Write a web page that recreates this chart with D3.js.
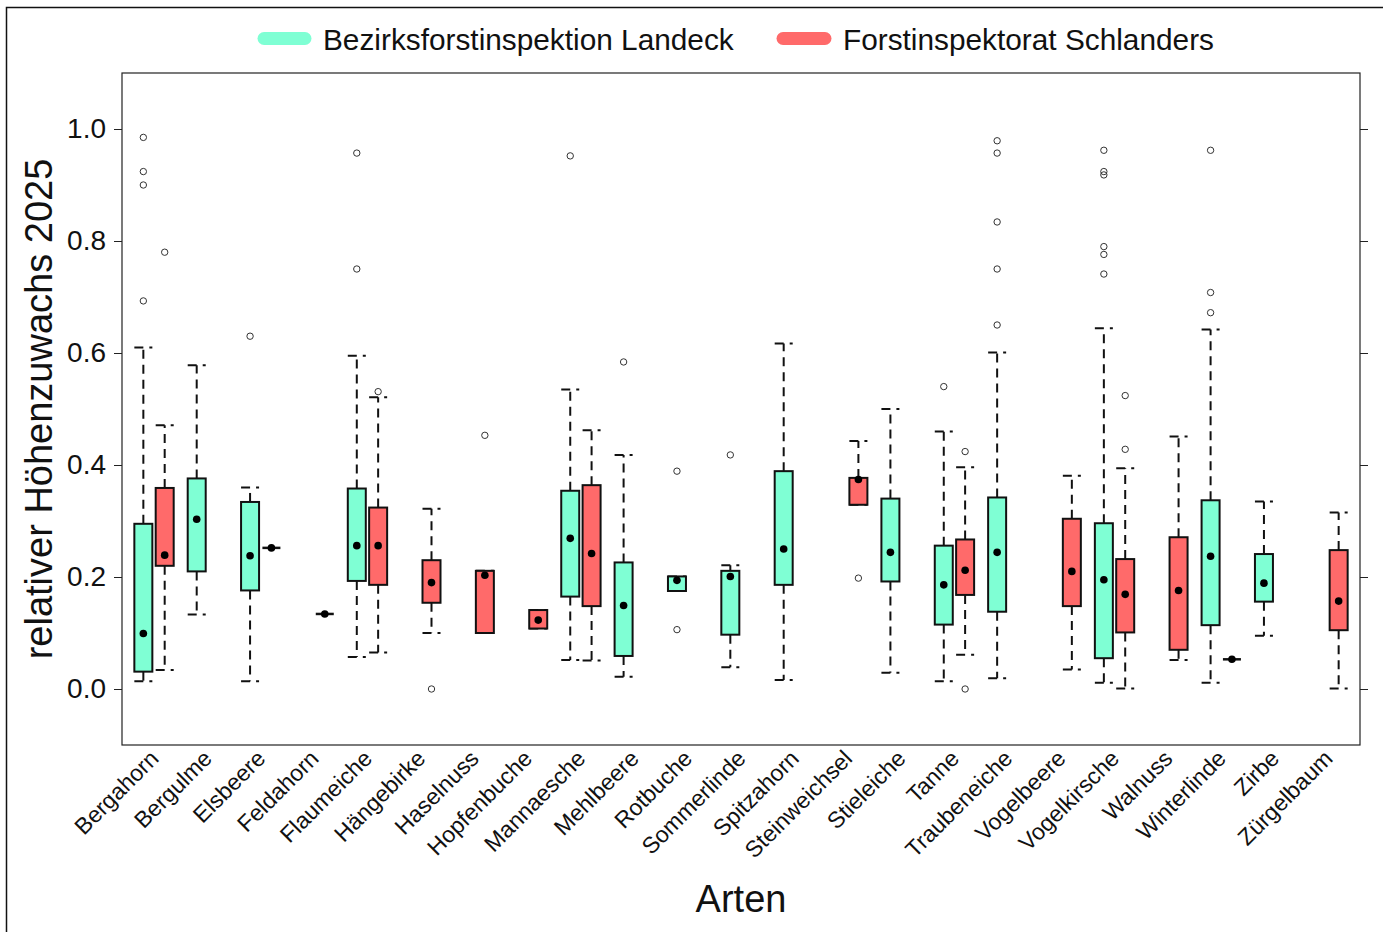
<!DOCTYPE html>
<html>
<head>
<meta charset="utf-8">
<script src="https://cdn.jsdelivr.net/npm/d3@7"></script>
<style>
  html, body { margin: 0; padding: 0; background: #fff; }
  svg { display: block; font-family: "Liberation Sans", Arial, sans-serif; }
</style>
</head>
<body>
<svg id="chart" width="1383" height="932"></svg>
<script>
// ---------- DATA ----------
const categories = ["Bergahorn","Bergulme","Elsbeere","Feldahorn","Flaumeiche","Hängebirke","Haselnuss",
  "Hopfenbuche","Mannaesche","Mehlbeere","Rotbuche","Sommerlinde","Spitzahorn","Steinweichsel","Stieleiche",
  "Tanne","Traubeneiche","Vogelbeere","Vogelkirsche","Walnuss","Winterlinde","Zirbe","Zürgelbaum"];

const groups = ["Bezirksforstinspektion Landeck", "Forstinspektorat Schlanders"];
const groupColors = ["#7FFFD4", "#FF6A6A"];

// Landeck: lower whisker, Q1, median, Q3, upper whisker (null = no data)
const landeckLow    = [0.014,0.133,0.014,null,0.057,null,null,null,0.052,0.022,0.175,0.039,0.016,null,0.029,0.014,0.019,null,0.011,null,0.011,0.095,null];
const landeckQ1     = [0.031,0.210,0.176,null,0.193,null,null,null,0.165,0.059,0.175,0.097,0.186,null,0.192,0.115,0.138,null,0.055,null,0.114,0.156,null];
const landeckMedian = [0.099,0.303,0.238,null,0.256,null,null,null,0.269,0.149,0.194,0.201,0.250,null,0.244,0.186,0.244,null,0.195,null,0.237,0.189,null];
const landeckQ3     = [0.295,0.376,0.334,null,0.358,null,null,null,0.354,0.226,0.201,0.211,0.389,null,0.340,0.256,0.342,null,0.296,null,0.337,0.241,null];
const landeckHigh   = [0.610,0.578,0.360,null,0.595,null,null,null,0.535,0.418,0.201,0.221,0.617,null,0.500,0.460,0.601,null,0.644,null,0.642,0.335,null];
const landeckOutliers = [[0.985,0.924,0.900,0.693],[],[0.630],[],[0.957,0.750],[],[],[],[0.952],[0.584],[0.389,0.106],[0.418],[],[],[],[0.540],
  [0.979,0.957,0.834,0.750,0.650],[],[0.962,0.924,0.918,0.790,0.776,0.741],[],[0.962,0.708,0.672],[],[]];

// Schlanders
const schlandersLow    = [0.034,null,0.252,0.134,0.065,0.100,0.100,0.108,0.051,null,null,null,null,0.329,null,0.061,null,0.035,0.001,0.052,0.053,null,0.001];
const schlandersQ1     = [0.220,null,0.252,0.134,0.186,0.154,0.100,0.108,0.148,null,null,null,null,0.329,null,0.168,null,0.148,0.101,0.070,0.053,null,0.105];
const schlandersMedian = [0.239,null,0.252,0.134,0.256,0.190,0.203,0.123,0.242,null,null,null,null,0.374,null,0.212,null,0.210,0.169,0.176,0.053,null,0.157];
const schlandersQ3     = [0.359,null,0.252,0.134,0.324,0.230,0.211,0.141,0.364,null,null,null,null,0.377,null,0.267,null,0.304,0.232,0.271,0.053,null,0.248];
const schlandersHigh   = [0.471,null,0.252,0.134,0.521,0.322,0.211,0.141,0.462,null,null,null,null,0.443,null,0.396,null,0.381,0.394,0.451,0.053,null,0.315];
const schlandersOutliers = [[0.780],[],[],[],[0.531],[0.000],[0.453],[],[],[],[],[],[],[0.198],[],[0.424,0.000],[],[],[0.524,0.428],[],[],[],[]];

const yTicks = [0.0, 0.2, 0.4, 0.6, 0.8, 1.0];

// ---------- LAYOUT ----------
const svg = d3.select("#chart");
const plot = {left: 122, right: 1360, top: 73, bottom: 745};

const x = d3.scaleLinear().domain([-0.6, categories.length - 0.4]).range([plot.left, plot.right]);
const y = d3.scaleLinear().domain([-0.1, 1.1]).range([plot.bottom, plot.top]);
const groupOffset = [-0.2, 0.2];
const boxHalf = 9;

// outer frame (bottom and right edges lie outside the picture)
svg.append("rect").attr("x", 6.5).attr("y", 7.5).attr("width", 1400).attr("height", 940)
  .attr("fill", "none").attr("stroke", "#111").attr("stroke-width", 1.5);

// plot border
svg.append("rect").attr("x", plot.left).attr("y", plot.top)
  .attr("width", plot.right - plot.left).attr("height", plot.bottom - plot.top)
  .attr("fill", "none").attr("stroke", "#222").attr("stroke-width", 1.2);

// y axis left
const yAxisL = d3.axisLeft(y).tickValues(yTicks).tickFormat(d3.format(".1f")).tickSize(8).tickPadding(8);
const gL = svg.append("g").attr("transform", `translate(${plot.left},0)`).call(yAxisL);
gL.select(".domain").remove();
gL.selectAll("line").attr("stroke", "#222");
gL.selectAll("text").attr("font-size", 28).attr("fill", "#111").attr("font-family", "Liberation Sans, Arial, sans-serif");

// y axis right (ticks only)
const yAxisR = d3.axisRight(y).tickValues(yTicks).tickFormat("").tickSize(8);
const gR = svg.append("g").attr("transform", `translate(${plot.right},0)`).call(yAxisR);
gR.select(".domain").remove();
gR.selectAll("line").attr("stroke", "#222");

// x labels
svg.append("g").selectAll("text").data(categories).join("text")
  .attr("transform", (d, i) => `translate(${x(i) + 6},${plot.bottom + 15}) rotate(-45)`)
  .attr("text-anchor", "end")
  .attr("font-size", 23)
  .attr("fill", "#111")
  .text(d => d);

// axis titles
svg.append("text").attr("x", (plot.left + plot.right) / 2).attr("y", 912)
  .attr("text-anchor", "middle").attr("font-size", 38).attr("fill", "#111").text("Arten");
svg.append("text").attr("transform", `translate(52,${(plot.top + plot.bottom) / 2}) rotate(-90)`)
  .attr("text-anchor", "middle").attr("font-size", 38).attr("fill", "#111").text("relativer Höhenzuwachs 2025");

// legend
const legendItems = [
  {label: groups[0], color: groupColors[0], x1: 264, x2: 305, tx: 323},
  {label: groups[1], color: groupColors[1], x1: 783, x2: 825, tx: 843}
];
legendItems.forEach(it => {
  svg.append("line").attr("x1", it.x1).attr("x2", it.x2).attr("y1", 38.5).attr("y2", 38.5)
    .attr("stroke", it.color).attr("stroke-width", 13).attr("stroke-linecap", "round");
  svg.append("text").attr("x", it.tx).attr("y", 49.5).attr("font-size", 29.8).attr("fill", "#111").text(it.label);
});

// ---------- BOXES ----------
const series = [
  {low: landeckLow, q1: landeckQ1, med: landeckMedian, q3: landeckQ3, high: landeckHigh, out: landeckOutliers},
  {low: schlandersLow, q1: schlandersQ1, med: schlandersMedian, q3: schlandersQ3, high: schlandersHigh, out: schlandersOutliers}
];
const gBox = svg.append("g");
const dash = "9,6";

series.forEach((s, gi) => {
  categories.forEach((c, i) => {
    if (s.med[i] === null) return;
    const cx = x(i + groupOffset[gi]);
    const g = gBox.append("g");
    // whiskers
    if (s.high[i] > s.q3[i]) {
      g.append("line").attr("x1", cx).attr("x2", cx).attr("y1", y(s.q3[i])).attr("y2", y(s.high[i]))
        .attr("stroke", "#111").attr("stroke-width", 2).attr("stroke-dasharray", dash);
    }
    if (s.low[i] < s.q1[i]) {
      g.append("line").attr("x1", cx).attr("x2", cx).attr("y1", y(s.q1[i])).attr("y2", y(s.low[i]))
        .attr("stroke", "#111").attr("stroke-width", 2).attr("stroke-dasharray", dash);
    }
    // staples
    [s.high[i], s.low[i]].forEach(v => {
      if (s.q1[i] === s.q3[i]) return;
      g.append("line").attr("x1", cx - boxHalf).attr("x2", cx + boxHalf).attr("y1", y(v)).attr("y2", y(v))
        .attr("stroke", "#111").attr("stroke-width", 2).attr("stroke-dasharray", dash);
    });
    // box
    if (s.q3[i] > s.q1[i]) {
      g.append("rect").attr("x", cx - boxHalf).attr("width", boxHalf * 2)
        .attr("y", y(s.q3[i])).attr("height", y(s.q1[i]) - y(s.q3[i]))
        .attr("fill", groupColors[gi]).attr("stroke", "#111").attr("stroke-width", 2);
    } else {
      g.append("line").attr("x1", cx - boxHalf).attr("x2", cx + boxHalf)
        .attr("y1", y(s.med[i])).attr("y2", y(s.med[i]))
        .attr("stroke", "#111").attr("stroke-width", 2.5);
    }
    // median dot
    g.append("circle").attr("cx", cx).attr("cy", y(s.med[i])).attr("r", 3.8).attr("fill", "#000");
    // outliers
    s.out[i].forEach(v => {
      g.append("circle").attr("cx", cx).attr("cy", y(v)).attr("r", 3.2)
        .attr("fill", "none").attr("stroke", "#333").attr("stroke-width", 1);
    });
  });
});
</script>
</body>
</html>
